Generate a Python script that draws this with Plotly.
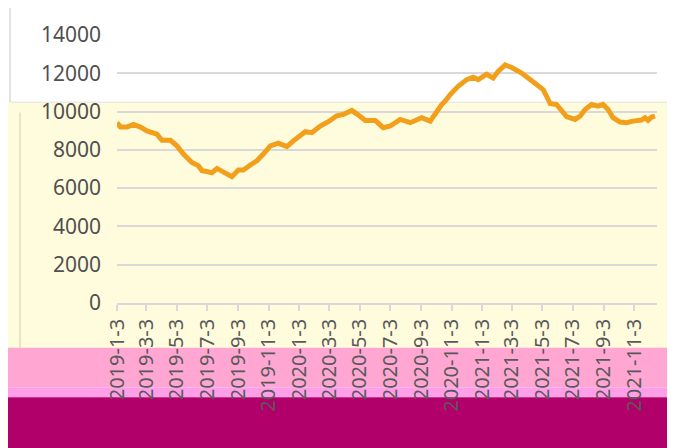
import plotly.graph_objects as go

# Daily series (one point roughly every 10-20 days)
dates = [
    "2019-01-03", "2019-01-10", "2019-01-23", "2019-02-05", "2019-02-19", "2019-03-04",
    "2019-03-24", "2019-04-03", "2019-04-20", "2019-05-03", "2019-05-16", "2019-06-02",
    "2019-06-15", "2019-06-22", "2019-07-02", "2019-07-12", "2019-07-22", "2019-08-04",
    "2019-08-21", "2019-09-03", "2019-09-13", "2019-09-27", "2019-10-10", "2019-10-23",
    "2019-11-06", "2019-11-22", "2019-12-09", "2019-12-22", "2020-01-05", "2020-01-15",
    "2020-01-28", "2020-02-14", "2020-03-01", "2020-03-18", "2020-03-31", "2020-04-17",
    "2020-04-27", "2020-05-14", "2020-06-03", "2020-06-19", "2020-07-03", "2020-07-23",
    "2020-08-12", "2020-09-04", "2020-09-21", "2020-10-01", "2020-10-14", "2020-10-21",
    "2020-10-31", "2020-11-16", "2020-12-03", "2020-12-16", "2020-12-26", "2021-01-12",
    "2021-01-25", "2021-02-04", "2021-02-18", "2021-03-03", "2021-03-13", "2021-03-23",
    "2021-04-09", "2021-04-22", "2021-05-05", "2021-05-12", "2021-05-19", "2021-06-01",
    "2021-06-11", "2021-06-21", "2021-07-08", "2021-07-18", "2021-07-28", "2021-08-10",
    "2021-08-23", "2021-09-02", "2021-09-12", "2021-09-22", "2021-10-06", "2021-10-19",
    "2021-11-01", "2021-11-18", "2021-11-25", "2021-12-01", "2021-12-08", "2021-12-15",
]
values = [
    9420, 9190, 9190, 9330, 9190, 8990,
    8820, 8500, 8500, 8210, 7780, 7340,
    7170, 6910, 6870, 6800, 7030, 6860,
    6600, 6950, 6950, 7210, 7430, 7780,
    8210, 8350, 8170, 8470, 8730, 8950,
    8900, 9245, 9470, 9780, 9850, 10060,
    9880, 9540, 9540, 9160, 9245, 9590,
    9420, 9680, 9500, 9930, 10370, 10550,
    10890, 11320, 11670, 11790, 11670, 11950,
    11750, 12100, 12440, 12300, 12190, 12010,
    11670, 11410, 11150, 10800, 10420, 10370,
    10020, 9740, 9590, 9760, 10110, 10370,
    10280, 10370, 10110, 9680, 9450, 9420,
    9500, 9560, 9680, 9540, 9710, 9760,
]
y_ticks = [0, 2000, 4000, 6000, 8000, 10000, 12000, 14000]

# page body has an 8px margin, so everything sits 8px lower/right
OFF = 8
W, H = 675, 448
L, T = 117 - OFF, 33 - OFF
pw, ph = 540, 270
R, B = W - L - pw, H - T - ph


# convert window pixels to paper coords for the background panels
def px(x0, y0, x1, y1):
    x0, x1, y0, y1 = x0 - OFF, x1 - OFF, y0 - OFF, y1 - OFF
    return dict(xref="paper", yref="paper",
                x0=(x0 - L) / pw, x1=(x1 - L) / pw,
                y0=(H - B - y0) / ph, y1=(H - B - y1) / ph)


shapes = [
    dict(type="rect", layer="below", line=dict(color="#d9d9d9", width=1.5),
         fillcolor="white", **px(10, 3, 673, 101)),
    dict(type="rect", layer="below", line=dict(width=0),
         fillcolor="#fffbdd", **px(4, 101, 683, 348)),
    dict(type="line", layer="below", line=dict(color="#e3ddb8", width=1.5),
         **px(20, 111, 20, 348)),
    dict(type="rect", layer="below", line=dict(width=0),
         fillcolor="#ffa6d2", **px(4, 348, 683, 388)),
    dict(type="rect", layer="below", line=dict(width=0),
         fillcolor="#ff9fe8", **px(4, 388, 683, 398)),
    dict(type="rect", layer="below", line=dict(width=0),
         fillcolor="#b1006a", **px(4, 398, 683, 456)),
]

fig = go.Figure()
fig.add_trace(go.Scatter(x=dates, y=values, mode="lines",
                         line=dict(color="#f29f1c", width=5),
                         showlegend=False))

fig.update_layout(
    width=W, height=H,
    margin=dict(l=L, r=R, t=T, b=B),
    paper_bgcolor="white",
    plot_bgcolor="rgba(0,0,0,0)",
    font=dict(family="Noto Sans, Open Sans, sans-serif", size=20, color="#595959"),
    shapes=shapes,
)
fig.update_xaxes(
    type="date",
    range=["2019-01-03", "2021-12-19"],
    tick0="2019-01-03", dtick="M2",
    tickformat="%Y-%-m-%-d",
    tickangle=-90,
    ticks="outside", ticklen=6, tickcolor="#d9d9d9", tickwidth=1.5,
    showline=True, linecolor="#d9d9d9", linewidth=1.5,
    showgrid=False, zeroline=False,
)
fig.update_yaxes(
    range=[0, 14000],
    tickvals=y_ticks,
    tickformat="d",
    tickfont=dict(size=21, color="#505050"),
    showgrid=True, gridcolor="#d9d9d9", gridwidth=1.5,
    zeroline=False, ticks="", ticklabelstandoff=15,
)

fig.write_html("out.html")
